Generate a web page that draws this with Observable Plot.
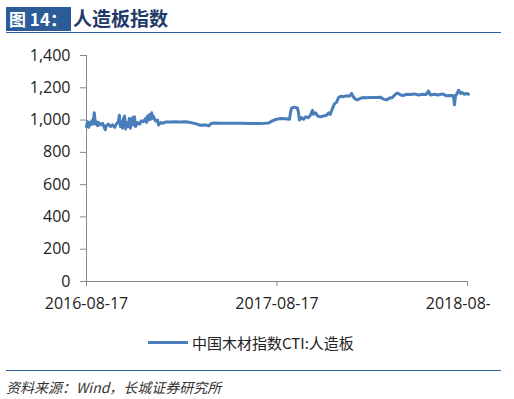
<!DOCTYPE html>
<html>
<head>
<meta charset="utf-8">
<script src="https://cdn.jsdelivr.net/npm/d3@7"></script>
<script src="https://cdn.jsdelivr.net/npm/@observablehq/plot@0.6"></script>
<style>
  html, body { margin: 0; padding: 0; background: #fff; }
  #page { position: relative; width: 514px; height: 399px; overflow: hidden; background: #fff; }
  #tbox { position: absolute; left: 6px; top: 7px; width: 65px; height: 24px; background: #2c5c98; color: #fff;
          font: bold 17px "Noto Sans CJK SC", sans-serif; line-height: 24px; padding-left: 3px; box-sizing: border-box; white-space: nowrap; }
  #ttext { position: absolute; left: 73px; top: 5px; color: #1f3a68; font: bold 19px "Noto Sans CJK SC", sans-serif; line-height: 26px; white-space: nowrap; }
  #tline { position: absolute; left: 6px; top: 32px; width: 495px; height: 1px; background: #2c5f9e; }
  #chart { position: absolute; left: 0; top: 40px; }
  #legend { position: absolute; left: 148px; top: 332px; height: 20px; display: flex; align-items: center; white-space: nowrap;
            font: 15px "Noto Sans CJK SC", sans-serif; color: #222; }
  #legend .sw { width: 40px; height: 3px; background: #4a7ebb; margin-right: 4px; }
  #bline { position: absolute; left: 6px; top: 370px; width: 495px; height: 1px; background: #2c5f9e; }
  #source { position: absolute; left: 6px; top: 377px; font: italic 14px "Noto Sans CJK SC", sans-serif; color: #333; white-space: nowrap; line-height: 20px; }
</style>
</head>
<body>
<div id="page">
  <div id="tbox">图 14：</div>
  <div id="ttext">人造板指数</div>
  <div id="tline"></div>
  <div id="chart"></div>
  <div id="legend"><div class="sw"></div><span id="legtext"></span></div>
  <div id="bline"></div>
  <div id="source">资料来源：Wind，长城证券研究所</div>
</div>
<script>
const seriesName = "中国木材指数CTI:人造板";
const xTicks = ["2016-08-17", "2017-08-17", "2018-08-17"];
const yTicks = [0, 200, 400, 600, 800, 1000, 1200, 1400];

const dates = [
  "2016-08-17","2016-08-19","2016-08-21","2016-08-23","2016-08-25","2016-08-27","2016-08-29","2016-08-30",
  "2016-09-01","2016-09-03","2016-09-05","2016-09-07","2016-09-09","2016-09-13","2016-09-17","2016-09-20",
  "2016-09-22","2016-09-24","2016-09-28","2016-10-02","2016-10-06","2016-10-10","2016-10-13","2016-10-17",
  "2016-10-19","2016-10-21","2016-10-23","2016-10-25","2016-10-27","2016-10-29","2016-10-31","2016-11-02",
  "2016-11-05","2016-11-07","2016-11-09","2016-11-13","2016-11-15","2016-11-17","2016-11-19","2016-11-23",
  "2016-11-27","2016-11-30","2016-12-04","2016-12-08","2016-12-10","2016-12-12","2016-12-14","2016-12-16",
  "2016-12-18","2016-12-20","2016-12-21","2016-12-23","2016-12-27","2016-12-31","2017-01-02","2017-01-06",
  "2017-01-10","2017-01-15","2017-01-25","2017-02-04","2017-02-13","2017-02-23","2017-03-04","2017-03-14",
  "2017-03-23","2017-04-02","2017-04-08","2017-04-14","2017-04-21","2017-05-01","2017-05-20","2017-06-08",
  "2017-06-27","2017-07-16","2017-08-01","2017-08-08","2017-08-16","2017-08-24","2017-09-02","2017-09-10",
  "2017-09-12","2017-09-14","2017-09-20","2017-09-25","2017-09-27","2017-09-29","2017-10-03","2017-10-07",
  "2017-10-11","2017-10-16","2017-10-20","2017-10-24","2017-10-26","2017-10-30","2017-11-03","2017-11-08",
  "2017-11-14","2017-11-20","2017-11-24","2017-11-27","2017-12-01","2017-12-05","2017-12-09","2017-12-13",
  "2017-12-17","2017-12-22","2017-12-28","2018-01-03","2018-01-07","2018-01-10","2018-01-14","2018-01-18",
  "2018-01-24","2018-01-30","2018-02-04","2018-02-12","2018-02-22","2018-03-03","2018-03-09","2018-03-15",
  "2018-03-20","2018-03-26","2018-04-01","2018-04-05","2018-04-11","2018-04-16","2018-04-22","2018-04-30",
  "2018-05-07","2018-05-15","2018-05-23","2018-05-30","2018-06-03","2018-06-07","2018-06-15","2018-06-22",
  "2018-06-30","2018-07-08","2018-07-15","2018-07-21","2018-07-23","2018-07-25","2018-07-29","2018-07-31",
  "2018-08-04","2018-08-07","2018-08-11","2018-08-15","2018-08-19"
];
const values = [
  960, 990, 955, 985, 970, 995, 975, 1000,
  1045, 975, 990, 965, 985, 970, 980, 955,
  940, 965, 975, 960, 970, 955, 975, 990,
  1030, 960, 990, 950, 1010, 1025, 945, 985,
  960, 1010, 950, 1015, 970, 1020, 960, 985,
  975, 995, 990, 1010, 985, 1025, 1000, 1035,
  1005, 1045, 1010, 1025, 995, 1000, 970, 985,
  980, 988, 988, 990, 988, 990, 985, 978,
  968, 970, 965, 980, 982, 980, 980, 980,
  978, 978, 982, 995, 1005, 1010, 1008, 1005,
  1050, 1075, 1080, 1075, 1050, 1000, 1015, 1005,
  1020, 1015, 1030, 1060, 1035, 1045, 1025, 1020,
  1025, 1030, 1045, 1035, 1070, 1100, 1110, 1140,
  1148, 1145, 1150, 1148, 1165, 1145, 1130, 1125,
  1135, 1140, 1138, 1140, 1140, 1142, 1130, 1125,
  1135, 1140, 1160, 1168, 1155, 1152, 1160, 1158,
  1162, 1155, 1160, 1158, 1180, 1155, 1160, 1155,
  1162, 1150, 1152, 1150, 1095, 1150, 1170, 1185,
  1165, 1170, 1160, 1165, 1160
];

const data = dates.map((d, i) => ({date: new Date(d), value: values[i]}));
const x0 = new Date(xTicks[0]);
const x1 = new Date(xTicks[xTicks.length - 1]);

const chart = Plot.plot({
  width: 490,
  height: 280,
  marginLeft: 86,
  marginRight: 23,
  marginTop: 15,
  marginBottom: 39,
  style: {fontFamily: "'Open Sans', sans-serif", fontSize: "16px", color: "#222", background: "transparent", overflow: "hidden"},
  x: {type: "utc", domain: [x0, x1], label: null},
  y: {domain: [0, 1400], label: null},
  marks: [
    Plot.ruleY([0], {stroke: "#888", strokeWidth: 1}),
    Plot.ruleX([x0], {y1: 0, y2: 1400, stroke: "#888", strokeWidth: 1}),
    Plot.axisY({ticks: yTicks, tickFormat: d3.format(","), tickSize: 6, tickPadding: 10, stroke: "#888", fill: "#222", label: null}),
    Plot.axisX({ticks: xTicks.map(d => new Date(d)), tickFormat: d3.utcFormat("%Y-%m-%d"), tickSize: 5, tickPadding: 11, stroke: "#888", fill: "#222", label: null}),
    Plot.line(data, {x: "date", y: "value", stroke: "#4a7ebb", strokeWidth: 3, strokeLinejoin: "round"})
  ]
});
document.getElementById("chart").appendChild(chart);
document.getElementById("legtext").textContent = seriesName;
</script>
</body>
</html>
